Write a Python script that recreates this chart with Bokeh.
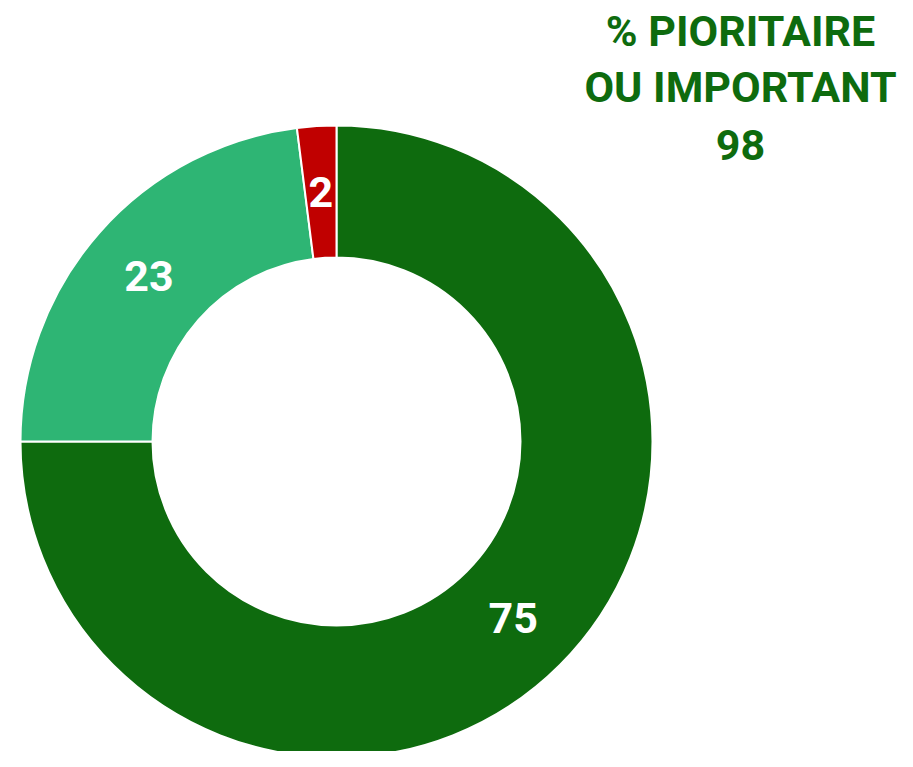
import math
from bokeh.plotting import figure
from bokeh.models import ColumnDataSource, Range1d
from bokeh.core.properties import value
from bokeh.embed import file_html
from bokeh.resources import INLINE

values = [75, 23, 2]
labels = ["75", "23", "2"]
colors = ["#0e6b0e", "#2eb574", "#c00000"]
title_lines = ["% PIORITAIRE", "OU IMPORTANT", "98"]

W, H = 897, 751
cx, cy = 336, H - 441
r_out, r_in = 316, 184

total = sum(values)
starts, ends, lx, ly = [], [], [], []
cum = 0.0
for v in values:
    a_end = math.radians(90 - cum / total * 360)
    cum += v
    a_start = math.radians(90 - cum / total * 360)
    starts.append(a_start)
    ends.append(a_end)
    mid = (a_start + a_end) / 2
    rm = (r_out + r_in) / 2
    lx.append(cx + rm * math.cos(mid))
    ly.append(cy + rm * math.sin(mid))

src = ColumnDataSource(dict(start=starts, end=ends, color=colors, lx=lx, ly=ly, label=labels))

p = figure(width=W, height=H, output_backend="svg", toolbar_location=None,
           x_range=Range1d(0, W), y_range=Range1d(0, H), min_border=0)
p.axis.visible = False
p.grid.visible = False
p.outline_line_color = None
p.background_fill_color = "white"

p.annular_wedge(x=cx, y=cy, inner_radius=r_in, outer_radius=r_out,
                start_angle="start", end_angle="end", fill_color="color",
                line_color="white", line_width=2, source=src)

p.text(x="lx", y="ly", text="label", source=src, text_color="white",
       text_font=value("Roboto"), text_font_style="bold", text_font_size="43px",
       text_align="center", text_baseline="middle")

tx = 740
ty = [H - 30, H - 86, H - 144]
p.text(x=[tx] * 3, y=ty, text=title_lines, text_color="#0e6b0e",
       text_font=value("Roboto"), text_font_style="bold", text_font_size="43px",
       text_align="center", text_baseline="alphabetic")

open("out.html", "w").write(file_html(p, INLINE))
